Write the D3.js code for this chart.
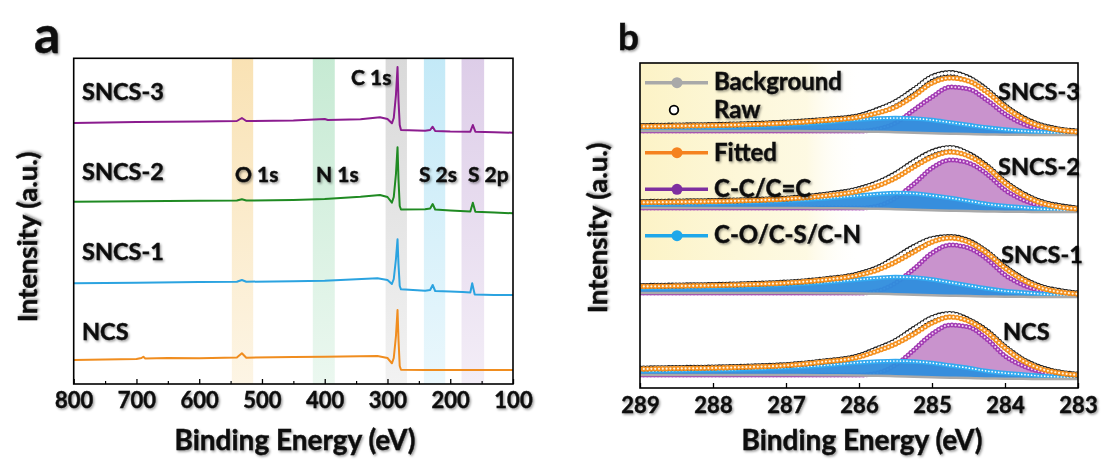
<!DOCTYPE html>
<html><head><meta charset="utf-8">
<script src="https://cdn.jsdelivr.net/npm/d3@7"></script>
<style>
body{margin:0;background:#fff;}
text{font-family:Lato,'Open Sans',sans-serif;font-weight:700;fill:#111;stroke:#111;stroke-width:0.45px;}
</style>
</head><body>
<svg id="c" width="1102" height="461"></svg>
<script>
// ---------------- DATA ----------------
// Panel a: survey spectra, [binding energy (eV), intensity (a.u.)]
const surveyNames = ["SNCS-3","SNCS-2","SNCS-1","NCS"];
const spectrumSNCS3 = [[800,261],[700,262],[600,262.5],[540,263],[532,266],[525,263],[450,263.5],[400,265],[395,264],[343,264.7],[312,266.7],[300,265],[293,260.7],[290,266],[286.5,289],[284,317],[282.5,284],[280.5,259],[278.5,254],[240,253.3],[232,254],[228,257.3],[224,253],[200,252.5],[168,252.3],[164,259],[160,252.3],[130,251.7],[100,251.3]];
const spectrumSNCS2 = [[800,182.3],[700,182.8],[600,183.3],[540,183.5],[532,184.7],[525,183.5],[450,184],[400,185],[343,187.3],[312,189],[300,187],[293,181.3],[290,187],[286.5,210],[284,236.7],[282.5,205],[280.5,178],[278.5,174.5],[240,174.7],[232,175.5],[228,180],[224,174.5],[200,173.5],[168,172.5],[164,181.3],[160,172.3],[130,171.5],[100,170.7]];
const spectrumSNCS1 = [[800,100.7],[700,101.3],[600,102],[540,102.3],[532,104],[525,102.3],[450,102.7],[400,103.3],[316,105.7],[300,104],[293,100],[290,105],[286.5,125],[284,144.7],[282.5,120],[280.5,98],[278.5,94.7],[240,93.3],[232,94],[228,99],[224,93],[200,92.5],[180,92],[168,91.5],[165,100.7],[161,89.5],[130,89],[100,89]];
const spectrumNCS = [[800,24],[700,25],[692,26],[689,27.3],[686,25.5],[650,26],[600,25.7],[540,26.5],[532,30.7],[525,26.3],[450,27],[400,27.3],[316,28],[300,26],[293,20.7],[290,26],[286.5,48],[284,74],[282.5,45],[280.5,18],[278.5,14.2],[240,14],[200,14],[100,14]];
const bandNames = ["O 1s","N 1s","C 1s","S 2s","S 2p"];
const bandHigh  = [548,419,303,242,182];   // eV
const bandLow   = [514,384,269,208,146];   // eV
const ticksA = [800,700,600,500,400,300,200,100];
const minorTicksA = [750,650,550,450,350,250,150];

// Panel b: C 1s high-resolution spectra
const energyB = [289,288.5,288,287.5,287,286.5,286,285.75,285.5,285.25,285,284.75,284.5,284.25,284,283.75,283.5,283.25,283];
const backgroundB = [4,4,4,4,4,3.8,3.5,3.2,2.8,2.3,1.8,1.3,0.9,0.6,0.3,0.15,0.05,0,0];
const sampleNamesB = ["NCS","SNCS-1","SNCS-2","SNCS-3"];
const sampleOffsetB = [9,91,176,253];
const blueNCS   = [8,8.5,9,10,11.5,13.5,16.5,17.5,18,17.5,16,13.5,11,8,6,4.5,3,2,1.5];
const purpleNCS = [4,4,4,4,4,4,4,6,14,29,45,54,52,40,23,13,7,3.5,2];
const fitNCS    = [10,10.5,11,12,13.5,17,22,28,35,45,56,62,58,47,31,18,10,6,4];
const rawNCS    = [10.5,11,11.5,12.5,14,17.5,23,30,38,50,61,65,59,48,32,19,11,6.5,4.5];
const blueS1    = [9,9.5,10,11,12.5,14.5,17.5,19,20,19.5,17.5,14.5,11.5,8.5,6,4.5,3,2,1.5];
const purpleS1  = [4,4,4,4,4,4,4,6,14,28,44,52,49,38,22,12,6,3,1.5];
const fitS1     = [10.5,11,11.5,12.5,14,17,22,27,35,45,55,59,55,44,29,17,9,5,3];
const rawS1     = [11,11.5,12,13,14.5,17.5,23,29,39,50,58,60,56,45,30,18,10,6,3.5];
const blueS2    = [8,8.5,9,10,11.5,13.5,16.5,18,19,18.5,16.5,14,11,8,6,4.5,3,2,1.5];
const purpleS2  = [4,4,4,4,4,4,4,6,14,28,44,52,49,38,22,12,6,3,1.5];
const fitS2     = [9.5,10,10.5,11.5,13,16,21,26,34,45,55,60,56,45,29,17,9,5,3];
const rawS2     = [10,10.5,11,12,13.5,17,23,29,38,50,60,64,58,46,30,18,10,6,3.5];
const blueS3    = [7,7.5,8,9,10.5,12.5,15.5,16.5,17,16.5,15,12.5,10,7.5,5.5,4,3,2,1.5];
const purpleS3  = [4,4,4,4,4,4,4,6,12,25,38,48,46,35,21,11,5.5,3,1.5];
const fitS3     = [8.5,9,9.5,10.5,12,14.5,18,22,28,39,52,57,54,43,28,16,8.5,5,3];
const rawS3     = [9,9.5,10,11,12.5,15,19,25,33,45,58,62,57,45,29,17,9.5,5.5,3.5];
const legendNames = ["Background","Raw","Fitted","C-C/C=C","C-O/C-S/C-N"];
const ticksB = [289,288,287,286,285,284,283];

// ---------------- DRAWING ----------------
const svg = d3.select("#c");
const defs = svg.append("defs");
const flt = defs.append("filter").attr("id","sh").attr("x","-20%").attr("y","-30%").attr("width","150%").attr("height","170%");
flt.append("feDropShadow").attr("dx",1.3).attr("dy",1.5).attr("stdDeviation",1.1).attr("flood-color","#000").attr("flood-opacity",0.4);

// ===== Panel a =====
const A = {l:73.7, r:513, t:58.3, b:384};
const xA = d3.scaleLinear().domain([800,100]).range([A.l,A.r]);
const yA = d3.scaleLinear().domain([0,325.7]).range([A.b,A.t]);
const bandColors = ["#f9e2b4","#c6ead3","#d9d9d9","#c3e9f7","#ddcde8"];
const bandLabelX = [235,316,351,419,468];   // label left edges (px)
const bandLabelY = [182,182,85,182,182];
const gA = svg.append("g");
bandNames.forEach((n,i)=>{
  const gid = "bg"+i;
  const lg = defs.append("linearGradient").attr("id",gid).attr("x1",0).attr("y1",0).attr("x2",0).attr("y2",1);
  lg.append("stop").attr("offset",0).attr("stop-color",bandColors[i]).attr("stop-opacity",1);
  lg.append("stop").attr("offset",1).attr("stop-color",bandColors[i]).attr("stop-opacity",0.35);
  gA.append("rect").attr("x",xA(bandHigh[i])).attr("y",A.t)
    .attr("width",xA(bandLow[i])-xA(bandHigh[i])).attr("height",A.b-A.t)
    .attr("fill",`url(#${gid})`);
});
const surveyData = [spectrumSNCS3,spectrumSNCS2,spectrumSNCS1,spectrumNCS];
const surveyColors = ["#8b1c8f","#1f8a22","#2ba3e0","#f08d1f"];
const lineA = d3.line().x(d=>xA(d[0])).y(d=>yA(d[1]));
surveyData.forEach((s,i)=>{
  gA.append("path").attr("d",lineA(s)).attr("fill","none").attr("stroke",surveyColors[i]).attr("stroke-width",2).attr("stroke-linejoin","round");
});
bandNames.forEach((n,i)=>{
  gA.append("text").attr("x",bandLabelX[i]).attr("y",bandLabelY[i])
    .attr("font-size",21).attr("filter","url(#sh)").text(n);
});
const labelYA = [100,180,260,340];
surveyNames.forEach((n,i)=>{
  gA.append("text").attr("x",82).attr("y",labelYA[i]).attr("font-size",23.5).attr("filter","url(#sh)").text(n);
});
gA.append("rect").attr("x",A.l).attr("y",A.t).attr("width",A.r-A.l).attr("height",A.b-A.t).attr("fill","none").attr("stroke","#000").attr("stroke-width",1.6);
const axA = gA.append("g").attr("transform",`translate(0,${A.b})`)
  .call(d3.axisBottom(xA).tickValues(ticksA).tickSize(-5).tickFormat(d3.format("d")));
axA.select(".domain").remove();
axA.selectAll("line").attr("stroke","#000").attr("stroke-width",1.3);
axA.selectAll("text").attr("y",24).attr("dy",0).attr("font-size",22).attr("font-family","Lato").attr("font-weight",700).attr("fill","#111").attr("filter","url(#sh)");
const axA2 = gA.append("g").attr("transform",`translate(0,${A.b})`)
  .call(d3.axisBottom(xA).tickValues(minorTicksA).tickSize(-3).tickFormat(""));
axA2.select(".domain").remove();
axA2.selectAll("line").attr("stroke","#000").attr("stroke-width",1.2);
gA.append("text").attr("x",295).attr("y",450).attr("text-anchor","middle").attr("font-size",28).attr("filter","url(#sh)").text("Binding Energy (eV)");
gA.append("text").attr("transform","translate(37,237) rotate(-90)").attr("text-anchor","middle").attr("font-size",27.5).attr("filter","url(#sh)").text("Intensity (a.u.)");
gA.append("text").attr("x",34).attr("y",53).attr("font-size",52).attr("filter","url(#sh)").text("a");

// ===== Panel b =====
const B = {l:640, r:1078, t:63, b:388};
const xB = d3.scaleLinear().domain([289,283]).range([B.l,B.r]);
const yB = d3.scaleLinear().domain([0,325]).range([B.b,B.t]);
const gB = svg.append("g");
defs.append("clipPath").attr("id","clipB").append("rect").attr("x",B.l).attr("y",B.t).attr("width",B.r-B.l).attr("height",B.b-B.t);
const lgY = defs.append("linearGradient").attr("id","legbg").attr("x1",0).attr("y1",0).attr("x2",1).attr("y2",0);
lgY.append("stop").attr("offset",0).attr("stop-color","#fcf3c6").attr("stop-opacity",1);
lgY.append("stop").attr("offset",0.75).attr("stop-color","#fdf8dc").attr("stop-opacity",0.8);
lgY.append("stop").attr("offset",1).attr("stop-color","#ffffff").attr("stop-opacity",0);
gB.append("rect").attr("x",B.l).attr("y",B.t).attr("width",222).attr("height",197).attr("fill","url(#legbg)");

const plotB = gB.append("g").attr("clip-path","url(#clipB)");
const blueSets = [blueNCS,blueS1,blueS2,blueS3];
const purpleSets = [purpleNCS,purpleS1,purpleS2,purpleS3];
const fitSets = [fitNCS,fitS1,fitS2,fitS3];
const rawSets = [rawNCS,rawS1,rawS2,rawS3];
function dotted(g, d, color, dia, gap, inner, innerDia){
  g.append("path").attr("d",d).attr("fill","none").attr("stroke",color).attr("stroke-width",dia)
    .attr("stroke-linecap","round").attr("stroke-dasharray",`0 ${gap}`);
  if(inner) g.append("path").attr("d",d).attr("fill","none").attr("stroke",inner).attr("stroke-width",innerDia)
    .attr("stroke-linecap","round").attr("stroke-dasharray",`0 ${gap}`);
}
sampleNamesB.forEach((name,k)=>{
  const off = sampleOffsetB[k];
  const pts = arr => energyB.map((e,i)=>[e,arr[i]+off]);
  const line = d3.line().x(d=>xB(d[0])).y(d=>yB(d[1])).curve(d3.curveMonotoneX);
  const area = (top) => d3.area().x((d,i)=>xB(energyB[i])).y0((d,i)=>yB(backgroundB[i]+off)).y1(d=>yB(d+off)).curve(d3.curveMonotoneX)(top);
  const g = plotB.append("g");
  g.append("path").attr("d",area(purpleSets[k])).attr("fill","#c993cd");
  dotted(g, line(pts(purpleSets[k])), "#a23bb3", 5, 3.6, "#f3d6f3", 2);
  g.append("path").attr("d",area(blueSets[k])).attr("fill","#2f8ddd").attr("opacity",0.95);
  g.append("path").attr("d",line(pts(blueSets[k]))).attr("fill","none").attr("stroke","#33aaf0").attr("stroke-width",4.5);
  dotted(g, line(pts(blueSets[k])), "#ffffff", 1.7, 3.3);
  g.append("path").attr("d",line(pts(backgroundB))).attr("fill","none").attr("stroke","#a9a9a9").attr("stroke-width",2.5);
  dotted(g, line(pts(rawSets[k])), "#222", 6, 3.6, "#ffffff", 3.8);
  dotted(g, line(pts(fitSets[k])), "#f5901e", 5.4, 3.8, "#fff3e0", 2.2);
});
const labelYB = [340,263,175,100];
const labelXB = [1003,1001,998,998];
sampleNamesB.forEach((n,i)=>{
  gB.append("text").attr("x",labelXB[i]).attr("y",labelYB[i]).attr("font-size",23.5).attr("filter","url(#sh)").text(n);
});
const legY = [82.7,110,152.7,189.3,235.7];
const legTextY = [90,118,161,197,243];
const legColors = ["#a9a9a9",null,"#f5821f","#7e2fa0","#1fa8ea"];
legendNames.forEach((n,i)=>{
  if(legColors[i]){
    gB.append("line").attr("x1",645).attr("x2",708).attr("y1",legY[i]).attr("y2",legY[i]).attr("stroke",legColors[i]).attr("stroke-width",3.5);
    gB.append("circle").attr("cx",677).attr("cy",legY[i]).attr("r",5.5).attr("fill",legColors[i]);
  } else {
    gB.append("circle").attr("cx",674).attr("cy",legY[i]).attr("r",4.3).attr("fill","#fff").attr("stroke","#000").attr("stroke-width",1.8);
  }
  gB.append("text").attr("x",714).attr("y",legTextY[i]).attr("font-size",24).attr("filter","url(#sh)").text(n);
});
gB.append("rect").attr("x",B.l).attr("y",B.t).attr("width",B.r-B.l).attr("height",B.b-B.t).attr("fill","none").attr("stroke","#000").attr("stroke-width",1.6);
const axB = gB.append("g").attr("transform",`translate(0,${B.b})`)
  .call(d3.axisBottom(xB).tickValues(ticksB).tickSize(-5).tickFormat(d3.format("d")));
axB.select(".domain").remove();
axB.selectAll("line").attr("stroke","#000").attr("stroke-width",1.3);
axB.selectAll("text").attr("y",25).attr("dy",0).attr("font-size",22).attr("font-family","Lato").attr("font-weight",700).attr("fill","#111").attr("filter","url(#sh)");
gB.append("text").attr("x",862).attr("y",450).attr("text-anchor","middle").attr("font-size",28).attr("filter","url(#sh)").text("Binding Energy (eV)");
gB.append("text").attr("transform","translate(607,228) rotate(-90)").attr("text-anchor","middle").attr("font-size",27.5).attr("filter","url(#sh)").text("Intensity (a.u.)");
gB.append("text").attr("x",618).attr("y",50).attr("font-size",37).attr("filter","url(#sh)").text("b");
</script>
</body></html>
